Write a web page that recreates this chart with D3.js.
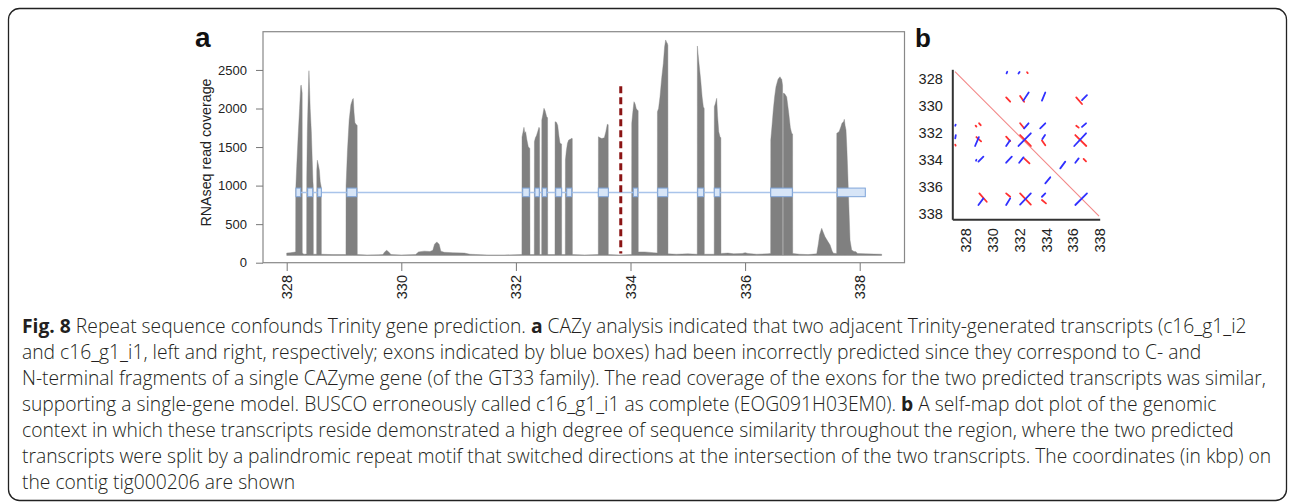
<!DOCTYPE html>
<html><head><meta charset="utf-8">
<script src="https://cdn.jsdelivr.net/npm/d3@7"></script>
<style>body{margin:0;background:#fff}svg{display:block}</style>
</head><body>
<svg id="chart" width="1290" height="502"></svg>
<script>
// ---------- Panel a data (position in kbp, RNAseq read coverage) ----------
const coverage = [
 [328.000,125],[328.060,128],[328.120,135],[328.150,140],
 [328.156,140],[328.158,950],[328.175,1250],[328.200,1650],[328.225,2000],[328.245,2290],[328.252,2305],[328.262,2250],[328.270,2200],[328.272,125],
 [328.300,110],[328.345,112],
 [328.348,115],[328.350,1100],[328.360,1700],[328.375,2150],[328.388,2490],[328.395,2350],[328.410,2000],[328.430,1700],[328.446,1330],[328.458,1050],[328.463,1000],[328.465,110],
 [328.520,110],
 [328.523,110],[328.525,1200],[328.535,1330],[328.550,1280],[328.570,1200],[328.585,1050],[328.603,980],[328.605,110],
 [328.800,105],[329.030,105],
 [329.034,110],[329.036,1000],[329.060,1450],[329.090,1850],[329.120,2050],[329.150,2120],[329.162,2130],[329.175,1950],[329.190,1820],[329.205,1800],[329.230,1780],[329.232,105],
 [329.400,100],[329.600,102],[329.680,105],[329.710,140],[329.745,160],[329.780,140],[329.820,105],[330.000,100],[330.250,105],[330.300,140],[330.400,150],[330.500,145],[330.550,160],[330.580,240],[330.620,270],[330.660,240],[330.690,150],[330.750,135],[330.900,130],[331.100,125],[331.200,110],[331.500,100],[331.800,100],[332.100,105],
 [332.105,110],[332.107,1630],[332.125,1700],[332.141,1756],[332.155,1680],[332.170,1700],[332.190,1600],[332.216,1505],[332.243,1480],[332.246,105],
 [332.320,105],
 [332.321,110],[332.323,1570],[332.340,1620],[332.360,1650],[332.380,1700],[332.403,1756],[332.413,1740],[332.415,105],
 [332.448,105],
 [332.450,110],[332.452,1850],[332.470,1920],[332.490,2003],[332.510,1970],[332.537,1894],[332.553,1880],[332.555,105],
 [332.680,105],
 [332.682,110],[332.684,1829],[332.710,1820],[332.730,1780],[332.750,1650],[332.770,1549],[332.797,1540],[332.799,105],
 [332.860,105],
 [332.862,110],[332.864,1332],[332.880,1450],[332.900,1550],[332.921,1591],[332.950,1600],[332.974,1613],[332.984,1610],[332.986,105],
 [333.200,100],[333.436,105],
 [333.438,110],[333.440,1634],[333.470,1620],[333.500,1610],[333.543,1620],[333.570,1700],[333.595,1795],[333.611,1790],[333.613,105],
 [333.800,100],[334.019,105],
 [334.020,110],[334.022,1808],[334.040,1950],[334.061,2088],[334.080,2060],[334.100,2000],[334.119,1981],[334.134,1970],[334.136,140],
 [334.250,140],[334.400,130],[334.466,125],
 [334.468,125],[334.470,1959],[334.490,2000],[334.515,2153],[334.545,2400],[334.573,2586],[334.595,2800],[334.614,2889],[334.630,2860],[334.642,2846],[334.652,2820],[334.654,115],
 [334.800,110],[335.000,115],[335.164,110],
 [335.165,110],[335.167,2811],[335.180,2700],[335.195,2586],[335.225,2370],[335.250,2150],[335.271,2023],[335.286,2000],[335.288,110],
 [335.460,110],
 [335.461,110],[335.463,2023],[335.480,2060],[335.504,2132],[335.520,1900],[335.540,1700],[335.562,1634],[335.577,1620],[335.579,120],
 [335.700,125],[335.800,115],[335.950,120],[336.000,130],[336.050,120],[336.200,110],[336.400,115],[336.445,120],
 [336.446,120],[336.448,1591],[336.470,1780],[336.492,1981],[336.515,2150],[336.539,2283],[336.575,2380],[336.609,2412],[336.625,2390],[336.639,2380],[336.654,2300],[336.655,95],[336.666,95],[336.667,2197],[336.681,2197],[336.700,2180],[336.726,2150],[336.760,1950],[336.790,1750],[336.813,1678],[336.829,1670],[336.831,120],
 [336.950,110],[337.100,105],[337.250,115],
 [337.280,250],[337.300,360],[337.337,446],[337.360,400],[337.395,337],[337.440,280],[337.483,230],[337.520,150],[337.541,122],[337.596,120],
 [337.598,125],[337.600,1678],[337.640,1700],[337.670,1760],[337.691,1808],[337.720,1830],[337.731,1860],[337.745,1780],[337.761,1721],[337.775,1500],[337.790,1202],[337.813,684],[337.831,294],[337.860,165],[337.900,145],[337.935,143],[337.960,120],[338.100,115],[338.250,112],[338.384,110]
];
const coverageFloor = 95;
const exons = [
 [328.162,328.244],[328.366,328.454],[328.541,328.604],[329.052,329.222],
 [332.119,332.234],[332.333,332.408],[332.461,332.538],[332.695,332.799],[332.887,332.974],
 [333.438,333.613],[334.049,334.126],[334.475,334.649],[335.173,335.277],[335.462,335.562],
 [336.447,336.824],[337.609,338.098]
];
const exonTrackLevel = 912;
const splitPosition = 333.83;
const splitRange = [120, 2290];
const yTicksA = [0,500,1000,1500,2000,2500];
const xTicksA = [328,330,332,334,336,338];
const yTitleA = "RNAseq read coverage";

// ---------- Panel b data (self-map dot plot, kbp) ----------
const dotReverse = [ // blue
 [331.05,327.58,331.10,327.46],[331.94,327.60,332.02,327.48],
 [332.30,329.60,332.70,329.00],[333.69,329.60,333.94,329.00],[336.68,329.56,337.05,329.19],
 [327.22,331.46,327.25,331.38],[332.36,331.65,332.69,331.28],[333.56,331.65,333.94,331.28],[336.68,331.55,336.98,331.28],
 [327.22,332.40,327.26,332.15],[328.70,332.96,328.98,332.30],[331.02,332.96,331.30,332.55],[331.94,332.96,332.86,332.02],[333.72,332.45,333.92,332.15],[336.10,332.96,336.98,332.02],
 [328.77,334.05,328.80,333.98],[328.95,334.12,329.32,333.75],[331.02,334.20,331.44,333.75],[331.99,334.20,332.31,333.80],[335.06,334.62,335.43,334.12],[336.18,334.20,336.43,333.88],
 [333.94,335.73,334.31,335.28],
 [328.95,337.33,329.32,336.84],[331.02,337.33,331.32,336.84],[332.06,337.30,332.86,336.47],[333.69,336.72,333.94,336.47],[336.18,337.33,337.05,336.47]
];
const dotForward = [ // red
 [332.58,327.50,332.63,327.56],
 [331.02,329.36,331.32,329.68],[332.06,329.26,332.36,329.68],[336.25,329.36,336.68,329.85],
 [328.74,331.45,328.80,331.52],[329.00,331.28,329.12,331.42],[332.06,331.28,332.36,331.65],[336.25,331.46,336.43,331.60],
 [327.22,332.86,327.25,332.93],[328.80,332.30,329.15,332.62],[331.02,332.27,331.32,332.60],[332.06,332.15,332.86,332.96],[333.69,332.55,333.94,332.90],[336.18,332.15,337.00,332.96],
 [332.36,333.88,332.76,334.25],[336.80,333.92,336.98,334.10],
 [329.02,336.47,329.57,337.09],[331.02,336.47,331.32,336.72],[332.06,336.47,332.86,337.30],[333.69,336.96,333.99,337.21]
];
const selfDiagonal = [[327.2,327.45],[337.95,338.15]];
const ticksB = [328,330,332,334,336,338];

// ---------- Caption ----------
const caption = [
 [["Fig. 8",1],[" Repeat sequence confounds Trinity gene prediction. ",0],["a",1],[" CAZy analysis indicated that two adjacent Trinity-generated transcripts (c16_g1_i2",0]],
 [["and c16_g1_i1, left and right, respectively; exons indicated by blue boxes) had been incorrectly predicted since they correspond to C- and",0]],
 [["N-terminal fragments of a single CAZyme gene (of the GT33 family). The read coverage of the exons for the two predicted transcripts was similar,",0]],
 [["supporting a single-gene model. BUSCO erroneously called c16_g1_i1 as complete (EOG091H03EM0). ",0],["b",1],[" A self-map dot plot of the genomic",0]],
 [["context in which these transcripts reside demonstrated a high degree of sequence similarity throughout the region, where the two predicted",0]],
 [["transcripts were split by a palindromic repeat motif that switched directions at the intersection of the two transcripts. The coordinates (in kbp) on",0]],
 [["the contig tig000206 are shown",0]]
];

// ---------- Drawing ----------
const svg = d3.select("#chart");
const axisFont = "'Liberation Sans', Arial, Helvetica, sans-serif";

svg.append("rect").attr("x",8.5).attr("y",8.5).attr("width",1278).attr("height",492)
  .attr("rx",11).attr("fill","none").attr("stroke","#222").attr("stroke-width",1.3);

// Panel a
const xA = d3.scaleLinear().domain([328,338]).range([286.7,859.7]);
const yA = d3.scaleLinear().domain([0,3000]).range([262.7,31.4]);
const gA = svg.append("g");

const area = d3.area().x(d=>xA(d[0])).y0(yA(coverageFloor)).y1(d=>yA(d[1]));
gA.append("path").datum(coverage).attr("d",area).attr("fill","#808080").attr("stroke","#808080").attr("stroke-width",0.4);

gA.append("line")
  .attr("x1",xA(d3.min(exons,d=>d[0]))).attr("x2",xA(d3.max(exons,d=>d[1])))
  .attr("y1",yA(exonTrackLevel)).attr("y2",yA(exonTrackLevel))
  .attr("stroke","#a9c4ea").attr("stroke-width",1.5);
gA.selectAll("rect.exon").data(exons).join("rect").attr("class","exon")
  .attr("x",d=>xA(d[0])).attr("width",d=>xA(d[1])-xA(d[0]))
  .attr("y",yA(exonTrackLevel)-4.3).attr("height",8.6)
  .attr("fill","#d7e5f7").attr("stroke","#7fa5da").attr("stroke-width",1);

gA.append("line").attr("x1",xA(splitPosition)).attr("x2",xA(splitPosition))
  .attr("y1",yA(splitRange[1])).attr("y2",yA(splitRange[0]))
  .attr("stroke","#8b1414").attr("stroke-width",3).attr("stroke-dasharray","7,4");

gA.append("rect").attr("x",263).attr("y",31.7).attr("width",641.5).attr("height",231)
  .attr("fill","none").attr("stroke","#888").attr("stroke-width",1.2);

const yAxA = gA.append("g").attr("transform","translate(263,0)")
  .call(d3.axisLeft(yA).tickValues(yTicksA).tickFormat(d3.format("d")).tickSize(7).tickPadding(9));
yAxA.select(".domain").remove();
yAxA.selectAll("line").attr("stroke","#777");
yAxA.selectAll("text").attr("font-family",axisFont).attr("font-size",13).attr("fill","#222");

const xAxA = gA.append("g").attr("transform","translate(0,263)")
  .call(d3.axisBottom(xA).tickValues(xTicksA).tickFormat(d3.format("d")).tickSize(8));
xAxA.select(".domain").remove();
xAxA.selectAll("line").attr("stroke","#777");
xAxA.selectAll("text").attr("font-family",axisFont).attr("font-size",14.5).attr("fill","#222")
  .attr("transform","rotate(-90)").attr("text-anchor","end").attr("x",-12).attr("y",0).attr("dy","0.35em");

gA.append("text").attr("transform","translate(211,152.5) rotate(-90)").attr("text-anchor","middle")
  .attr("font-family",axisFont).attr("font-size",14).attr("fill","#222").attr("textLength",148)
  .attr("lengthAdjust","spacingAndGlyphs").text(yTitleA);

svg.append("text").attr("x",195).attr("y",47).attr("font-family",axisFont).attr("font-weight","bold")
  .attr("font-size",28).attr("fill","#111").text("a");
svg.append("text").attr("x",915).attr("y",47).attr("font-family",axisFont).attr("font-weight","bold")
  .attr("font-size",26).attr("fill","#111").text("b");

// Panel b
const xB = d3.scaleLinear().domain([327.0,338.0]).range([952.3,1099.7]);
const yB = d3.scaleLinear().domain([327.28,338.39]).range([69.3,219.3]);
const gB = svg.append("g");

gB.append("line").attr("x1",xB(selfDiagonal[0][0])).attr("y1",yB(selfDiagonal[0][1]))
  .attr("x2",xB(selfDiagonal[1][0])).attr("y2",yB(selfDiagonal[1][1]))
  .attr("stroke","#f28888").attr("stroke-width",1.1);

gB.selectAll("line.fwd").data(dotForward).join("line").attr("class","fwd")
  .attr("x1",d=>xB(d[0])).attr("y1",d=>yB(d[1])).attr("x2",d=>xB(d[2])).attr("y2",d=>yB(d[3]))
  .attr("stroke","#ff3030").attr("stroke-width",1.8).attr("stroke-linecap","round");
gB.selectAll("line.rev").data(dotReverse).join("line").attr("class","rev")
  .attr("x1",d=>xB(d[0])).attr("y1",d=>yB(d[1])).attr("x2",d=>xB(d[2])).attr("y2",d=>yB(d[3]))
  .attr("stroke","#3030ff").attr("stroke-width",1.8).attr("stroke-linecap","round");

const yAxB = gB.append("g").attr("transform","translate(952.3,0)")
  .call(d3.axisLeft(yB).tickValues(ticksB).tickFormat(d3.format("d")).tickSize(0).tickSizeOuter(0).tickPadding(9.5));
yAxB.select(".domain").attr("stroke","#333").attr("stroke-width",2);
yAxB.selectAll("text").attr("font-family",axisFont).attr("font-size",14.5).attr("fill","#222");

const xAxB = gB.append("g").attr("transform","translate(0,219.3)")
  .call(d3.axisBottom(xB).tickValues(ticksB).tickFormat(d3.format("d")).tickSize(0).tickSizeOuter(0));
xAxB.select(".domain").attr("stroke","#333").attr("stroke-width",2);
xAxB.selectAll("text").attr("font-family",axisFont).attr("font-size",14.5).attr("fill","#222")
  .attr("transform","rotate(-90)").attr("text-anchor","end").attr("x",-9).attr("y",0).attr("dy","0.35em");

// Caption
const capFont = "'Open Sans', 'Noto Sans', sans-serif";
const capG = svg.append("g");
const lines = capG.selectAll("text").data(caption).join("text")
  .attr("x",22).attr("y",(d,i)=>333+i*26)
  .attr("font-family",capFont).attr("font-weight",300).attr("font-size",16).attr("fill","#231f20");
lines.selectAll("tspan").data(d=>d).join("tspan")
  .attr("font-weight",d=>d[1]?"bold":300).text(d=>d[0]);
const target = 1245;
const natural = lines.nodes()[2].getComputedTextLength();
lines.attr("font-size",16*target/natural);
</script>
</body></html>
